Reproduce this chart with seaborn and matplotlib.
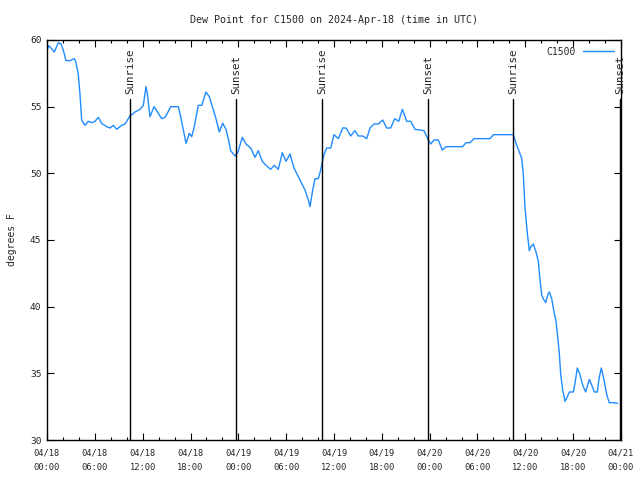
import matplotlib
matplotlib.use("Agg")
import matplotlib.pyplot as plt
from matplotlib.ticker import MultipleLocator
import seaborn as sns
import pandas as pd

# hours since 2024-04-18 00:00 UTC
hours = [0.0, 0.25, 0.92, 1.42, 1.76, 2.04, 2.38, 2.89, 3.42, 3.6, 3.93, 4.14, 4.35, 4.77,
         5.18, 5.61, 6.02, 6.44, 6.86, 7.49, 7.9, 8.32, 8.74, 9.37, 9.78, 10.41, 11.04,
         11.67, 12.08, 12.42, 12.58, 12.92, 13.42, 13.96, 14.39, 14.8, 15.09, 15.52,
         16.47, 16.68, 17.1, 17.44, 17.85, 18.15, 18.44, 18.98, 19.41, 19.94, 20.36,
         20.79, 21.2, 21.61, 22.04, 22.45, 22.74, 23.04, 23.58, 23.87, 24.0, 24.5, 24.96,
         25.55, 26.09, 26.5, 27.0, 27.56, 28.06, 28.51, 29.01, 29.52, 29.98, 30.48, 30.98,
         31.74, 32.36, 32.78, 32.99, 33.33, 33.62, 34.03, 34.33, 34.58, 34.75, 35.09,
         35.59, 36.0, 36.54, 37.09, 37.51, 38.1, 38.6, 39.05, 39.6, 40.1, 40.52, 41.02,
         41.56, 42.11, 42.61, 43.11, 43.62, 44.12, 44.57, 45.12, 45.62, 46.16, 46.79,
         47.29, 47.83, 48.13, 48.54, 49.08, 49.59, 50.05, 52.14, 52.56, 53.06, 53.56,
         55.57, 55.98, 58.49, 58.83, 59.25, 59.55, 59.75, 59.96, 60.25, 60.5, 60.68,
         61.0, 61.34, 61.63, 61.84, 62.05, 62.25, 62.56, 62.81, 63.01, 63.31, 63.6,
         63.85, 64.06, 64.26, 64.44, 64.69, 64.98, 65.27, 65.52, 66.02, 66.23, 66.52,
         66.86, 67.2, 67.57, 68.03, 68.4, 68.65, 69.03, 69.24, 69.53, 69.87, 70.21,
         70.53, 71.03, 71.59]

dew_point = [59.25, 59.57, 59.1, 59.8, 59.7, 59.25, 58.45, 58.45, 58.6, 58.4, 57.4, 55.9,
             54.0, 53.6, 53.9, 53.8, 53.9, 54.2, 53.75, 53.5, 53.4, 53.6, 53.3, 53.6, 53.7,
             54.3, 54.6, 54.8, 55.1, 56.5, 56.0, 54.25, 55.0, 54.5, 54.1, 54.2, 54.5, 55.0,
             55.0, 54.5, 53.25, 52.25, 53.0, 52.75, 53.4, 55.1, 55.1, 56.1, 55.75, 54.9,
             54.1, 53.1, 53.75, 53.3, 52.6, 51.7, 51.3, 51.5, 51.7, 52.7, 52.2, 51.9, 51.2,
             51.7, 50.9, 50.55, 50.3, 50.6, 50.3, 51.55, 50.9, 51.45, 50.4, 49.5, 48.75,
             48.0, 47.5, 48.75, 49.6, 49.6, 50.25, 51.0, 51.4, 51.9, 51.9, 52.9, 52.6, 53.4,
             53.4, 52.8, 53.2, 52.8, 52.8, 52.6, 53.4, 53.7, 53.7, 54.0, 53.4, 53.4, 54.1,
             53.9, 54.8, 53.9, 53.9, 53.3, 53.25, 53.2, 52.5, 52.2, 52.5, 52.5, 51.75,
             52.0, 52.0, 52.3, 52.3, 52.6, 52.6, 52.9, 52.9, 52.25, 51.6, 51.1, 49.9, 47.4,
             45.5, 44.2, 44.5, 44.7, 44.1, 43.4, 42.0, 40.9, 40.6, 40.3, 40.9, 41.1, 40.6,
             39.6, 38.9, 37.75, 36.5, 34.9, 33.75, 32.9, 33.25, 33.6, 33.6, 34.25, 35.4,
             34.9, 34.1, 33.6, 34.55, 34.0, 33.6, 33.6, 34.6, 35.4, 34.5, 33.4, 32.8, 32.8,
             32.75]

event_hours = [10.41, 23.71, 34.5, 47.79, 58.45, 71.9]
event_labels = ["Sunrise", "Sunset", "Sunrise", "Sunset", "Sunrise", "Sunset"]

xtick_hours = [0, 6, 12, 18, 24, 30, 36, 42, 48, 54, 60, 66, 72]
xtick_labels = ["04/18\n00:00", "04/18\n06:00", "04/18\n12:00", "04/18\n18:00",
                "04/19\n00:00", "04/19\n06:00", "04/19\n12:00", "04/19\n18:00",
                "04/20\n00:00", "04/20\n06:00", "04/20\n12:00", "04/20\n18:00",
                "04/21\n00:00"]

sns.set_style("ticks")
plt.rcParams["font.family"] = ["DejaVu Sans Mono"]
plt.rcParams["font.size"] = 7

fig = plt.figure(figsize=(6.4, 4.8), dpi=100)
ax = fig.add_axes([47/640, 40/480, (621-47)/640, 400/480])

df = pd.DataFrame({"hours": hours, "dew": dew_point})
sns.lineplot(data=df, x="hours", y="dew", ax=ax, color="#1E8CFF", linewidth=1.0,
             label="C1500")

for h, lab in zip(event_hours, event_labels):
    ax.plot([h, h], [30, 55.6], color="black", linewidth=1.0)
    ax.text(h, 55.95, lab, rotation=90, ha="center", va="bottom", fontsize=7.8)

ax.set_xlim(0, 72)
ax.set_ylim(30, 60)
ax.set_xticks(xtick_hours)
ax.set_xticklabels(xtick_labels, fontsize=6.3, linespacing=1.85)
ax.xaxis.set_minor_locator(MultipleLocator(2))
ax.yaxis.set_major_locator(MultipleLocator(5))
ax.tick_params(which="both", direction="in", top=True, right=True, color="black")
ax.tick_params(axis="y", labelsize=6.8)
ax.tick_params(which="major", length=5, width=0.8, pad=4)
ax.tick_params(axis="x", which="major", pad=6)
ax.tick_params(which="minor", length=2.5, width=0.8)
for s in ax.spines.values():
    s.set_linewidth(1.0)
    s.set_color("black")

ax.set_xlabel("")
ax.set_ylabel("degrees F", fontsize=7, labelpad=9)
ax.set_title("Dew Point for C1500 on 2024-Apr-18 (time in UTC)", fontsize=7.2, pad=12)

leg = ax.legend(loc="upper right", frameon=False, fontsize=7, handlelength=3.2,
                borderaxespad=0.3, markerfirst=False, handletextpad=0.8)

fig.savefig("out.png", dpi=100)
